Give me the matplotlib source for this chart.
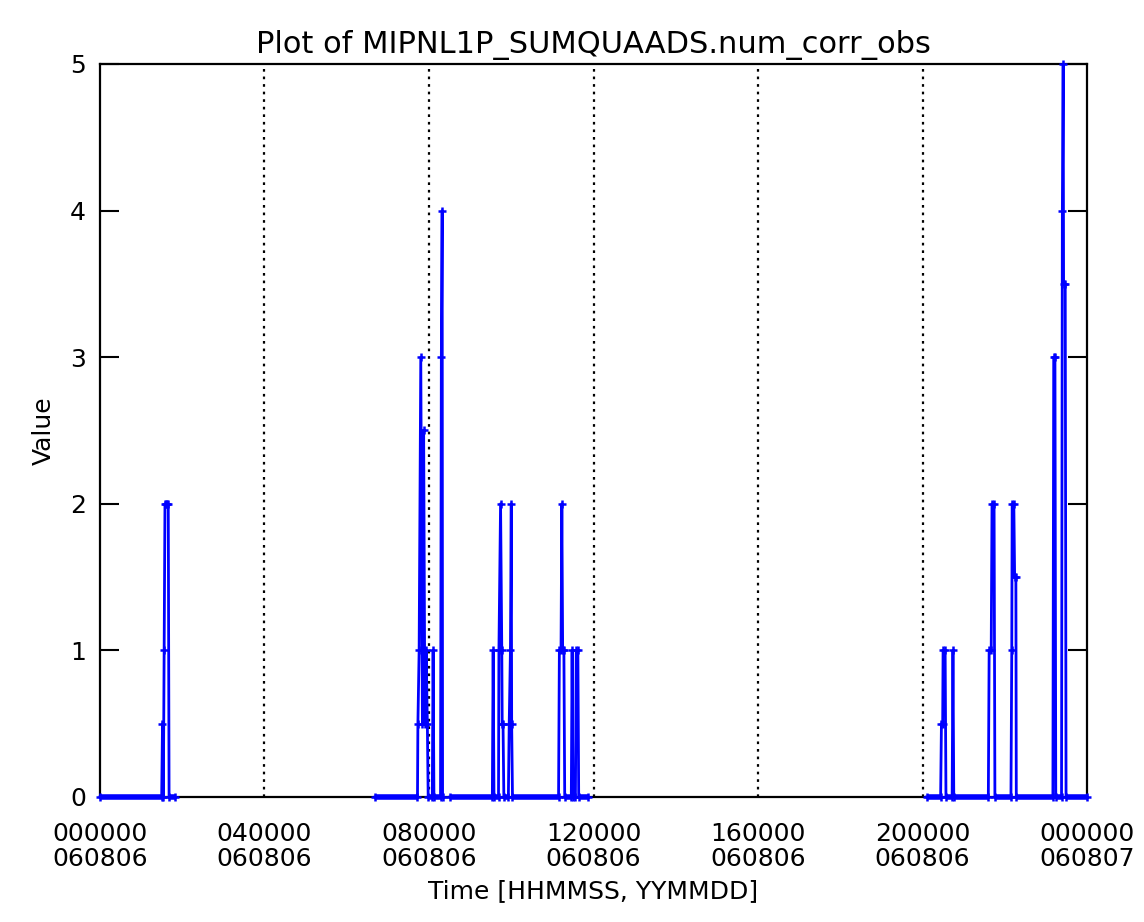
import matplotlib
matplotlib.use('Agg')
import matplotlib.pyplot as plt
import numpy as np

nan = np.nan

# time in hours since 000000 060806, NaN marks gaps in the record
t_hours = [
    0.00, 1.50, 1.52, 1.54, 1.56, 1.58, 1.60, 1.62, 1.66, 1.68, 1.82, nan,
    6.69, 7.72, 7.73, 7.76, 7.80, 7.84, 7.87, 7.90, 7.93, 7.96, 7.98,
    8.08, 8.10, 8.12, 8.28, 8.30, 8.32, 8.33, nan,
    8.51, 9.54, 9.56, 9.58, 9.69, 9.70, 9.74, 9.77, 9.78, 9.80, 9.82,
    9.93, 9.95, 9.98, 10.00, 10.01, 10.03, 11.15, 11.17, 11.21, 11.23, 11.25,
    11.28, 11.30, 11.46, 11.48, 11.50, 11.56, 11.58, 11.62, 11.64, 11.87, nan,
    20.10, 20.44, 20.46, 20.49, 20.50, 20.55, 20.57, 20.72, 20.74, 20.76,
    21.60, 21.62, 21.67, 21.69, 21.74, 21.76, 22.15, 22.17, 22.18, 22.22,
    22.24, 22.27, 22.28, 23.17, 23.19, 23.22, 23.24, 23.38, 23.40, 23.42,
    23.43, 23.47, 23.49, 24.00,
]
values = [
    0, 0, 0.5, 0, 1, 2, 2, 2, 2, 0, 0, nan,
    0, 0, 0.5, 1, 3, 0.5, 2.5, 0.5, 1, 0.5, 0,
    0, 1, 0, 0, 3, 4, 0, nan,
    0, 0, 1, 0, 0, 1, 2, 1, 0.5, 0.5, 0,
    0, 0.5, 1, 2, 0.5, 0, 0, 1, 1, 2, 1,
    1, 0, 0, 1, 0, 0, 1, 1, 0, 0, nan,
    0, 0, 0.5, 0.5, 1, 1, 0, 0, 1, 0,
    0, 1, 1, 2, 2, 0, 0, 1, 2, 2,
    1.5, 1.5, 0, 0, 3, 3, 0, 0, 4, 5,
    3.5, 3.5, 0, 0,
]

tick_hours = [0, 4, 8, 12, 16, 20, 24]
tick_labels = ['000000\n060806', '040000\n060806', '080000\n060806',
               '120000\n060806', '160000\n060806', '200000\n060806',
               '000000\n060807']

t = np.array(t_hours)
v = np.array(values, dtype=float)
# runs of zero samples are drawn heavier, as the dense samples look in the original
zero_runs = np.where(v == 0, 0.0, nan)

fig = plt.figure(figsize=(11.44, 9.22), dpi=100)
ax = fig.add_axes([0.0874, 0.1356, 0.8628, 0.795])

ax.plot(t, zero_runs, color='#0000ff', lw=4, clip_on=False, zorder=3,
        solid_capstyle='butt')
ax.plot(t, v, color='#0000ff', lw=2, marker='+', ms=6,
        mew=1.8, clip_on=False, zorder=3)

for h in tick_hours[1:-1]:
    ax.axvline(h, color='black', lw=1.6, linestyle=(0, (1.2, 2.2)), zorder=1)

ax.set_xlim(0, 24)
ax.set_ylim(0, 5)
ax.set_xticks(tick_hours)
ax.set_xticklabels(tick_labels, linespacing=1.05)
ax.set_yticks([0, 1, 2, 3, 4, 5])
ax.tick_params(axis='x', length=0, pad=18, labelsize=18)
ax.tick_params(axis='y', direction='in', length=14, width=1.5, pad=10,
               labelsize=18, right=True)
for s in ax.spines.values():
    s.set_linewidth(1.6)

ax.set_title('Plot of MIPNL1P_SUMQUAADS.num_corr_obs', fontsize=22, pad=8)
ax.set_xlabel('Time [HHMMSS, YYMMDD]', fontsize=18, labelpad=6)
ax.set_ylabel('Value', fontsize=18, labelpad=10)

fig.savefig('out.png', dpi=100)
